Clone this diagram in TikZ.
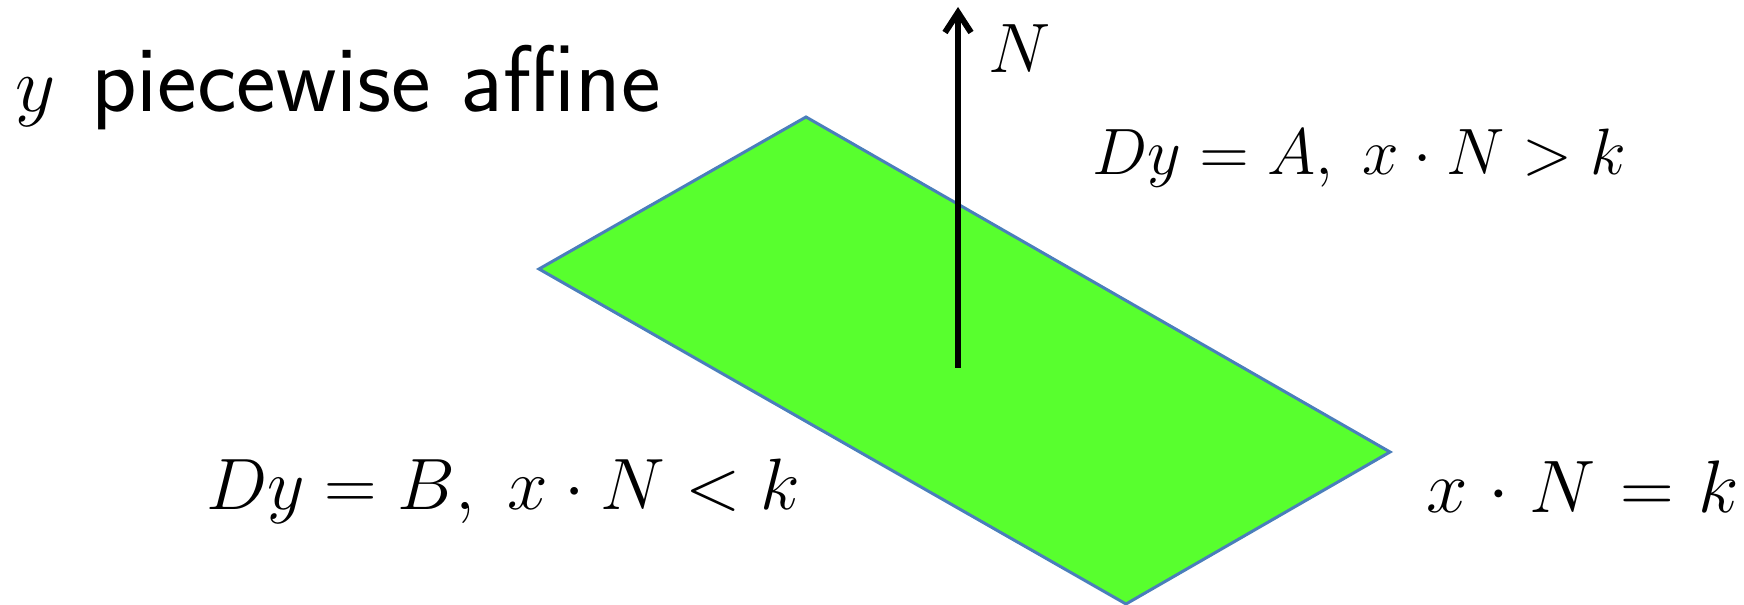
\RequirePackage{fix-cm}
\documentclass[tikz,border=0pt]{standalone}
\usetikzlibrary{arrows.meta}
\definecolor{planefill}{RGB}{88,255,46}
\definecolor{planeedge}{RGB}{74,126,187}
\tikzset{
  lbl/.style={inner sep=0pt, outer sep=0pt, anchor=base west, text=black},
  plane/.style={fill=planefill, draw=planeedge, line width=0.75pt, line join=miter},
  normalarrow/.style={draw=black, line width=1.5pt, -{Straight Barb[length=5pt,width=6.5pt]}}
}
\newcommand{\mspacing}{\thickmuskip=6mu\medmuskip=5mu}
\begin{document}
\begin{tikzpicture}[x=0.25pt,y=-0.25pt]
\useasboundingbox (0,0) rectangle (1744,605);
% plane corners
\coordinate (top) at (806,117);
\coordinate (left) at (539,269);
\coordinate (bottom) at (1126,604);
\coordinate (right) at (1390,452);
\path[plane] (top) -- (left) -- (bottom) -- (right) -- cycle;
% normal vector
\coordinate (nbase) at (958,368);
\coordinate (ntip) at (958,7);
\draw[normalarrow] (nbase) -- (ntip);
% labels
\node[lbl] (title) at (15,112) {\fontsize{19.5}{22}\selectfont $y$\hspace{9pt}\fontsize{23.6}{26}\selectfont\sffamily piecewise affine};
\node[lbl] (nlabel) at (988,73) {\fontsize{17.5}{20}\selectfont $N$};
\node[lbl] (upper) at (1092,175) {\fontsize{16.4}{18}\selectfont $Dy=A,\; x\cdot N>k$};
\node[lbl] (lower) at (206,510) {\fontsize{18.2}{20}\selectfont $Dy=B,\; x\cdot N<k$};
\node[lbl] (boundary) at (1426,513) {\fontsize{18.6}{20}\selectfont\mspacing $x\cdot N=k$};
\end{tikzpicture}
\end{document}
